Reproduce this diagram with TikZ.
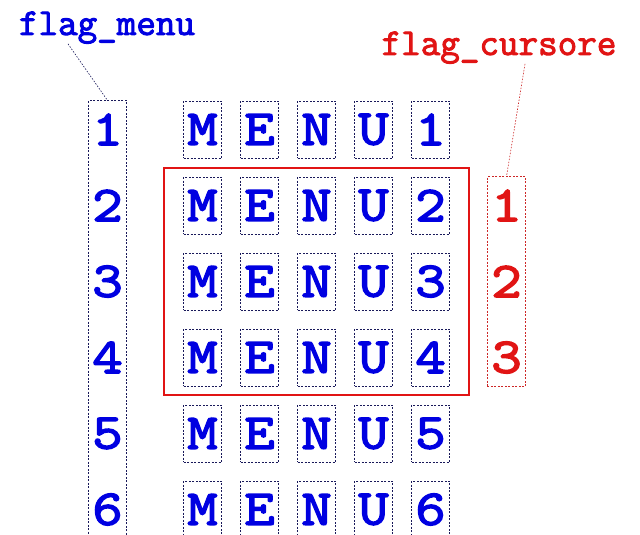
\documentclass[tikz,border=0pt]{standalone}
\usepackage{fontspec}
\newfontfamily\cellfont{Latin Modern Mono}[FakeBold=3, FakeStretch=1.18]
\newfontfamily\flagfont{Latin Modern Mono}[FakeBold=2.5]
\usetikzlibrary{fit}
\definecolor{menublue}{RGB}{0,0,225}
\definecolor{cursred}{RGB}{225,20,20}
\definecolor{boxline}{RGB}{25,25,90}
\definecolor{cursline}{RGB}{205,40,40}

\begin{document}
\begin{tikzpicture}[x=1pt, y=-1pt,
    cell/.style={rectangle, draw=boxline, dash pattern=on 2pt off 1.5pt, line width=0.7pt, minimum width=38pt, minimum height=57pt, inner sep=0pt, text=menublue, font=\fontsize{50}{50}\cellfont},
    num/.style={rectangle, minimum width=38pt, minimum height=57pt, inner sep=0pt, font=\fontsize{50}{50}\cellfont},
    colbox/.style={rectangle, draw=boxline, dash pattern=on 2pt off 1.5pt, line width=0.7pt, inner sep=0pt},
    flag/.style={font=\fontsize{38}{38}\flagfont, inner sep=0pt, anchor=base},
    link/.style={line width=0.6pt, dash pattern=on 1.5pt off 1.5pt},
]
\useasboundingbox (0,0) rectangle (640,535);

% Menu rows
\foreach \r in {1,...,6} {
  \foreach \ch [count=\c] in {M,E,N,U,\r}
    \node[cell] (c\r-\c) at ({145.5+57*\c}, {53.5+76*\r}) {\ch};
  \node[num, text=menublue] (m\r) at (107.5, {53.5+76*\r}) {\r};
}

% Cursor positions
\foreach \k in {1,2,3}
  \node[num, text=cursred] (k\k) at (506.5, {53.5+76*(\k+1)}) {\k};

% Boxes round the columns
\node[colbox, fit=(m1)(m6)] (menucol) {};
\node[colbox, draw=cursline, fit=(k1)(k3)] (curscol) {};

% Visible window
\node[rectangle, draw=cursred, line width=2.5pt, inner xsep=19pt, inner ysep=8.5pt, fit=(c2-1)(c4-5)] (window) {};

% Flags
\node[flag, text=menublue] (fmenu) at (107, 35) {flag\_menu};
\node[flag, text=cursred] (fcurs) at (499, 55) {flag\_cursore};

\draw[link, boxline] ([xshift=-39pt]fmenu.south) -- (menucol.north);
\draw[link, cursline] ([xshift=26pt]fcurs.south) -- (curscol.north);

\end{tikzpicture}
\end{document}
